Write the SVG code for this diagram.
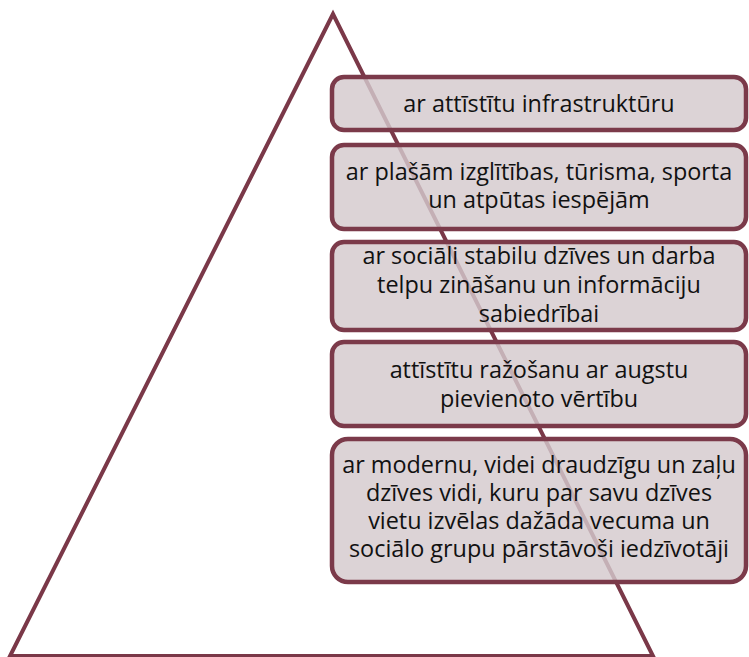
<svg xmlns="http://www.w3.org/2000/svg" width="749" height="657" viewBox="0 0 749 657">
<style>
.tri{fill:none;stroke:#7a3848;stroke-width:4;stroke-linejoin:miter}
.box{fill:#d4c9cd;fill-opacity:0.82;stroke:#7b3a4a;stroke-width:4.5}
.t{font-family:"Open Sans","Liberation Sans",sans-serif;font-size:23.4px;fill:#111;text-anchor:middle}
</style>
<g id="connectors"></g>
<g id="pyramid"><polygon class="tri" points="333,14 10,656 653,656"/></g>
<g id="box1"><rect class="box" x="332" y="77" width="414" height="53" rx="12"/>
<text class="t" x="539" y="112">ar attīstītu infrastruktūru</text></g>
<g id="box2"><rect class="box" x="332" y="145" width="414" height="84" rx="12"/>
<text class="t" x="539" y="180">ar plašām izglītības, tūrisma, sporta</text>
<text class="t" x="539" y="208">un atpūtas iespējām</text></g>
<g id="box3"><rect class="box" x="332" y="242" width="414" height="88" rx="12"/>
<text class="t" x="539" y="264">ar sociāli stabilu dzīves un darba</text>
<text class="t" x="539" y="293">telpu zināšanu un informāciju</text>
<text class="t" x="539" y="322">sabiedrībai</text></g>
<g id="box4"><rect class="box" x="332" y="342" width="414" height="84" rx="12"/>
<text class="t" x="539" y="378">attīstītu ražošanu ar augstu</text>
<text class="t" x="539" y="407">pievienoto vērtību</text></g>
<g id="box5"><rect class="box" x="332" y="439" width="414" height="143" rx="16"/>
<text class="t" x="539" y="473">ar modernu, videi draudzīgu un zaļu</text>
<text class="t" x="539" y="501">dzīves vidi, kuru par savu dzīves</text>
<text class="t" x="539" y="529">vietu izvēlas dažāda vecuma un</text>
<text class="t" x="539" y="557">sociālo grupu pārstāvoši iedzīvotāji</text></g>
</svg>
